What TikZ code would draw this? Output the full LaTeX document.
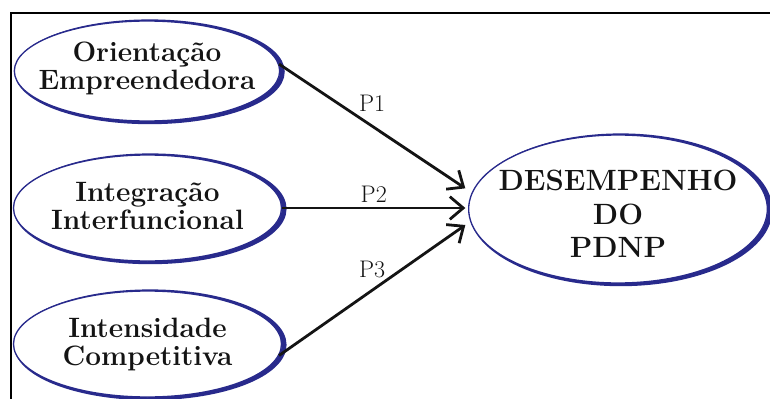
\documentclass[tikz,border=0pt]{standalone}
\usepackage{fontspec}
\usetikzlibrary{shapes.geometric,arrows.meta}
\definecolor{azul}{RGB}{40,42,140}
\definecolor{tinta}{RGB}{20,20,20}
\tikzset{
  construto/.style={ellipse, draw=azul, line width=1pt, fill=white, inner sep=0pt,
    preaction={draw=azul, line width=3.6pt, transform canvas={shift={(2pt,-0.6pt)}}}},
  rotulo/.style={font=\bfseries\fontsize{21}{21}\selectfont, align=center, text=tinta},
  hipotese/.style={-{Straight Barb[length=10pt,width=17pt]}, line width=2.1pt, draw=tinta},
  hiplabel/.style={font=\fontsize{18}{20}\selectfont, text=tinta},
}
\begin{document}
\begin{tikzpicture}[x=0.75pt,y=-0.75pt]
    \useasboundingbox (0,0) rectangle (770,399);
    \draw[line width=1.5pt] (11,399) -- (11,13) -- (770,13);

    \node[construto, minimum width=199pt, minimum height=75pt] (oe) at (147,71) {};
    \node[construto, minimum width=201pt, minimum height=79.5pt] (ii) at (147.5,208) {};
    \node[construto, minimum width=201pt, minimum height=79.5pt] (ic) at (147.5,344) {};
    \node[construto, minimum width=224pt, minimum height=111pt] (dp) at (618,209) {};

    \node[rotulo] (oe-txt) at (147,68) {Orientação\\Empreendedora};
    \node[rotulo] (ii-txt) at (147.5,206) {Integração\\Interfuncional};
    \node[rotulo] (ic-txt) at (147.5,344) {Intensidade\\Competitiva};
    \node[rotulo, font=\bfseries\fontsize{22}{25}\selectfont] (dp-txt) at (618,214) {DESEMPENHO\\DO\\PDNP};

    \draw[hipotese] (oe.3) -- ([xshift=-2pt,yshift=15.5pt]dp.west) node[midway, above=6.5pt, hiplabel] (p1) {P1};
    \draw[hipotese] (ii.east) -- ([xshift=-2pt,yshift=0.75pt]dp.west) node[midway, above, hiplabel] (p2) {P2};
    \draw[hipotese] (ic.-5) -- ([xshift=-2pt,yshift=-12pt]dp.west) node[midway, above=5pt, hiplabel] (p3) {P3};
\end{tikzpicture}
\end{document}
